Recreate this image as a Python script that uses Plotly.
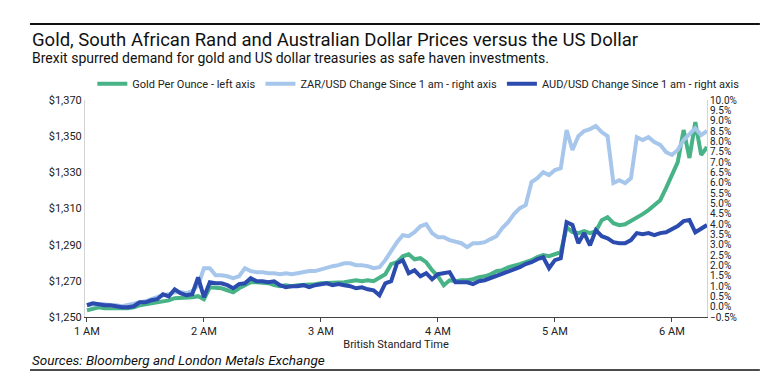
import plotly.graph_objects as go

# minutes after 1 AM (British Standard Time)
minutes = list(range(0, 319, 3))

gold_price = [
    1253.7, 1254.3, 1255.4, 1254.8, 1254.8, 1254.3, 1254.3, 1254.8, 1255.4, 1256.5,
    1257.0, 1257.6, 1258.1, 1258.7, 1259.2, 1260.4, 1260.4, 1260.9, 1260.9, 1261.5,
    1259.8, 1266.4, 1265.9, 1265.9, 1264.8, 1263.7, 1265.9, 1267.6, 1269.2, 1269.2,
    1269.2, 1268.7, 1267.6, 1267.0, 1267.6, 1267.0, 1267.6, 1267.6, 1267.6, 1268.1,
    1268.7, 1268.7, 1269.2, 1268.7, 1269.2, 1269.8, 1270.3, 1269.8, 1270.3, 1269.8,
    1271.4, 1273.6, 1279.2, 1280.3, 1283.6, 1284.7, 1281.9, 1282.5, 1280.3, 1275.9,
    1272.5, 1267.6, 1270.3, 1269.8, 1270.3, 1270.3, 1270.9, 1272.0, 1272.5, 1273.6,
    1275.3, 1275.9, 1277.5, 1278.1, 1279.2, 1280.3, 1281.4, 1283.1, 1284.2, 1283.6,
    1284.7, 1285.8, 1299.7, 1296.9, 1296.4, 1297.5, 1296.4, 1297.5, 1303.5, 1305.2,
    1301.9, 1300.8, 1301.3, 1303.0, 1305.2, 1306.9, 1309.1, 1311.9, 1314.6, 1321.3,
    1328.5, 1335.7, 1353.4, 1337.9, 1357.8, 1339.6, 1344.0,
]

zar_change = [
    0.07, 0.12, 0.12, 0.12, 0.07, 0.07, 0.02, 0.07, 0.12, 0.21,
    0.26, 0.36, 0.46, 0.55, 0.60, 0.70, 0.70, 0.65, 0.75, 1.04,
    1.86, 1.86, 1.52, 1.52, 1.47, 1.38, 1.47, 1.86, 1.72, 1.67,
    1.67, 1.62, 1.62, 1.57, 1.62, 1.57, 1.62, 1.67, 1.72, 1.72,
    1.81, 1.86, 1.96, 2.01, 2.10, 2.10, 2.01, 2.01, 1.96, 1.86,
    1.91, 2.25, 2.73, 3.12, 3.46, 3.41, 3.60, 3.89, 3.99, 3.56,
    3.36, 3.36, 3.22, 3.12, 3.07, 2.88, 3.07, 3.07, 3.12, 3.27,
    3.41, 3.80, 4.09, 4.48, 4.77, 4.91, 6.03, 6.22, 6.51, 6.37,
    6.61, 6.70, 8.54, 7.58, 8.25, 8.50, 8.59, 8.74, 8.45, 8.25,
    5.98, 6.12, 5.98, 6.22, 8.20, 8.06, 8.20, 7.97, 7.83, 7.48,
    7.34, 7.58, 8.06, 8.35, 8.64, 8.30, 8.50,
]

aud_change = [
    0.07, 0.16, 0.12, 0.07, 0.07, 0.02, -0.03, -0.03, 0.02, 0.21,
    0.21, 0.31, 0.36, 0.60, 0.50, 0.84, 0.65, 0.55, 0.60, 1.42,
    0.46, 1.18, 1.13, 1.13, 1.04, 0.89, 1.09, 1.13, 1.38, 1.23,
    1.23, 1.18, 1.23, 1.04, 0.94, 0.99, 0.99, 1.04, 0.94, 1.04,
    1.09, 1.13, 1.04, 1.09, 1.04, 0.99, 0.89, 0.94, 0.84, 0.79,
    0.55, 1.13, 1.23, 2.10, 2.25, 1.62, 1.76, 1.47, 1.62, 1.33,
    1.57, 1.62, 1.67, 1.18, 1.18, 1.18, 1.09, 1.23, 1.28, 1.38,
    1.52, 1.62, 1.72, 1.81, 1.91, 2.06, 2.15, 2.30, 2.39, 1.86,
    2.25, 2.34, 4.09, 3.95, 3.07, 3.56, 2.97, 3.70, 3.41, 3.31,
    3.12, 3.07, 3.07, 3.22, 3.56, 3.51, 3.56, 3.46, 3.56, 3.60,
    3.75, 3.90, 4.14, 4.19, 3.60, 3.75, 3.95,
]

x_tick_vals = [0, 60, 120, 180, 240, 300]
x_tick_text = ["1 AM", "2 AM", "3 AM", "4 AM", "5 AM", "6 AM"]

GOLD = "#47b386"
ZAR = "#a7c6ec"
AUD = "#2b4cae"
FONT = "Roboto"

fig = go.Figure()
fig.add_trace(go.Scatter(x=minutes, y=gold_price, mode="lines",
                         name="Gold Per Ounce - left axis",
                         line=dict(color=GOLD, width=4)))
fig.add_trace(go.Scatter(x=minutes, y=zar_change, mode="lines", yaxis="y2",
                         name="ZAR/USD Change Since 1 am - right axis",
                         line=dict(color=ZAR, width=4)))
fig.add_trace(go.Scatter(x=minutes, y=aud_change, mode="lines", yaxis="y2",
                         name="AUD/USD Change Since 1 am - right axis",
                         line=dict(color=AUD, width=4)))

fig.update_layout(
    width=760, height=370,
    margin=dict(l=77, r=61, t=92, b=61, autoexpand=False),
    paper_bgcolor="white", plot_bgcolor="white",
    font=dict(family=FONT, size=11, color="#222"),
    showlegend=True,
    legend=dict(orientation="h", x=1.06, xanchor="right", y=1.075, yanchor="middle",
                font=dict(family=FONT, size=11, color="#222"),
                bgcolor="rgba(0,0,0,0)", itemwidth=30, tracegroupgap=0),
    xaxis=dict(range=[-1, 318], tickvals=x_tick_vals, ticktext=x_tick_text,
               showgrid=False, zeroline=False, showline=True, linecolor="#444",
               linewidth=1, ticks="outside", ticklen=4, tickcolor="#444",
               tickfont=dict(family=FONT, size=11, color="#222"),
               title=dict(text="British Standard Time", standoff=0,
                          font=dict(family=FONT, size=11, color="#222"))),
    yaxis=dict(range=[1250, 1370], dtick=20, tick0=1250, tickprefix="$", tickformat=",",
               showgrid=False, zeroline=False, showline=True, linecolor="#d4d4d4",
               ticks="", tickfont=dict(family=FONT, size=11, color="#222")),
    yaxis2=dict(range=[-0.5, 10], dtick=0.5, tick0=0, tickformat=".1f", ticksuffix="%",
                overlaying="y", side="right", showgrid=False, zeroline=False,
                showline=True, linecolor="#d4d4d4", ticks="",
                tickfont=dict(family=FONT, size=10, color="#222")),
    annotations=[
        dict(text="Gold, South African Rand and Australian Dollar Prices versus the US Dollar",
             xref="paper", yref="paper", x=-0.0884, y=1.276, xanchor="left", yanchor="middle",
             showarrow=False, font=dict(family=FONT, size=18.5, color="#111")),
        dict(text="Brexit spurred demand for gold and US dollar treasuries as safe haven investments.",
             xref="paper", yref="paper", x=-0.0884, y=1.193, xanchor="left", yanchor="middle",
             showarrow=False, font=dict(family=FONT, size=14, color="#111")),
        dict(text="<i>Sources: Bloomberg and London Metals Exchange</i>",
             xref="paper", yref="paper", x=-0.0884, y=-0.2, xanchor="left", yanchor="middle",
             showarrow=False, font=dict(family=FONT, size=13.5, color="#111")),
    ],
    shapes=[
        dict(type="line", xref="paper", yref="paper", x0=-0.0884, x1=1.085, y0=1.35, y1=1.35,
             line=dict(color="#111", width=2)),
        dict(type="line", xref="paper", yref="paper", x0=-0.0884, x1=1.085, y0=-0.244, y1=-0.244,
             line=dict(color="#111", width=1.5)),
    ],
)

fig.write_html("out.html")
